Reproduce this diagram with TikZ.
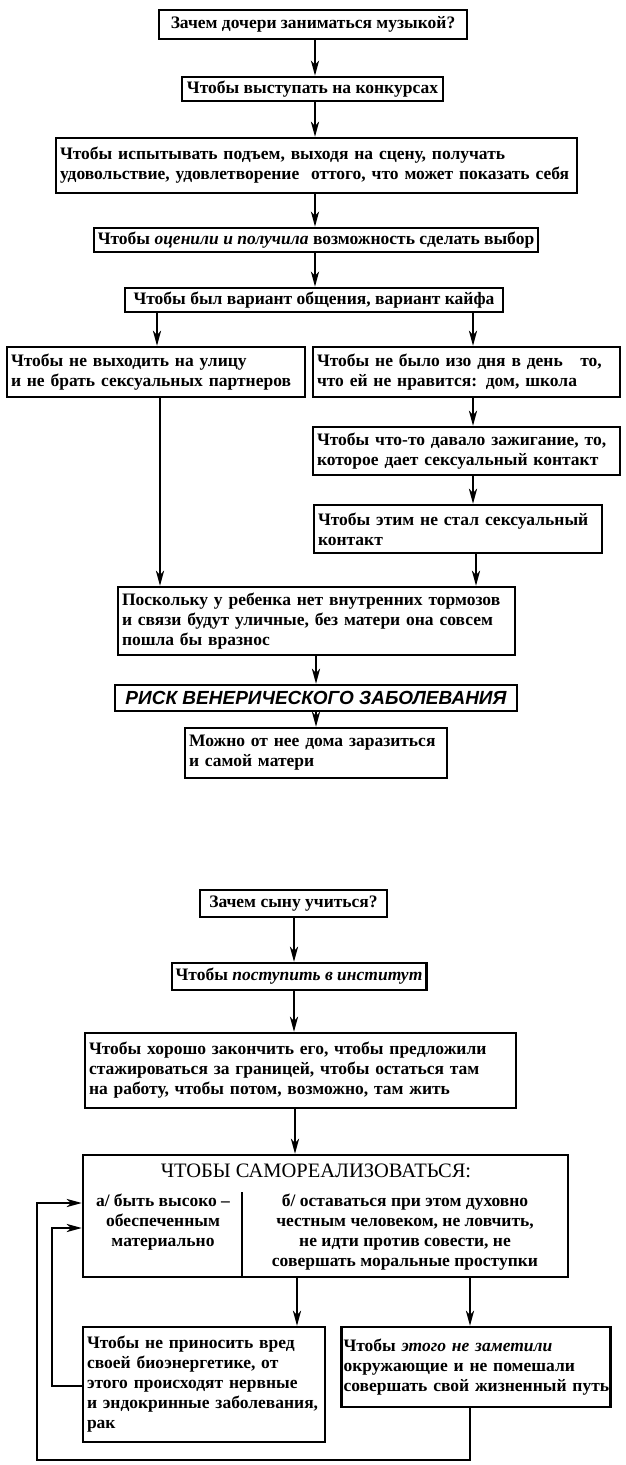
\documentclass[tikz,border=0pt]{standalone}
\usepackage{fontspec}
\setmainfont{Liberation Serif}
\setsansfont{Liberation Sans}
\usetikzlibrary{arrows.meta}
\newcommand{\bodyfont}{\bfseries\fontsize{17.5}{20}\selectfont}
\newcommand{\Lx}[1]{\mbox{#1}}
\begin{document}
\begin{tikzpicture}[x=1pt,y=-1pt,
  box/.style={draw, line width=2.3pt, inner sep=4pt, font=\bodyfont},
  lbox/.style={box, align=left},
  conn/.style={line width=2.4pt, -{Stealth[length=15pt,width=8pt,inset=4pt]}},
  wire/.style={line width=2.4pt}]
\useasboundingbox (0,0) rectangle (625,1465);

% ---------- first diagram ----------
\node[box, minimum width=308pt, minimum height=29pt] (b1) at (313,24.5) {Зачем дочери заниматься музыкой?};
\node[box, minimum width=261pt, minimum height=22pt] (b2) at (312.5,89) {Чтобы выступать на конкурсах};
\node[lbox, text width=513pt, minimum height=55pt] (b3) at (316.5,165.5)
  {\Lx{Чтобы испытывать подъем, выходя на сцену, получать}\\\Lx{удовольствие, удовлетворение\ \ оттого, что может показать себя}};
\node[box, minimum width=436pt, minimum height=24pt] (b4) at (316,240) {Чтобы \textit{оценили и получила} возможность сделать выбор};
\node[box, minimum width=378pt, minimum height=24pt] (b5) at (314,300) {Чтобы был вариант общения, вариант кайфа};
\node[lbox, text width=290pt, minimum height=50pt] (b6) at (156,372)
  {\Lx{Чтобы не выходить на улицу}\\\Lx{и не брать сексуальных партнеров}};
\node[lbox, text width=299pt, minimum height=50pt] (b7) at (466.5,372)
  {\Lx{Чтобы не было изо дня в день\ \ \ то,}\\\Lx{что ей не нравится: дом, школа}};
\node[lbox, text width=299pt, minimum height=48pt] (b8) at (466.5,451)
  {\Lx{Чтобы что-то давало зажигание, то,}\\\Lx{которое дает сексуальный контакт}};
\node[lbox, text width=280pt, minimum height=48pt] (b9) at (458,529)
  {\Lx{Чтобы этим не стал сексуальный}\\\Lx{контакт}};
\node[lbox, text width=389pt, minimum height=68pt] (b10) at (316.5,621)
  {\Lx{Поскольку у ребенка нет внутренних тормозов}\\\Lx{и связи будут уличные, без матери она совсем}\\\Lx{пошла бы вразнос}};
\node[box, minimum width=402pt, minimum height=26pt, font=\sffamily\bfseries\itshape\fontsize{19}{21}\selectfont] (b11) at (316,698)
  {РИСК ВЕНЕРИЧЕСКОГО ЗАБОЛЕВАНИЯ};
\node[lbox, text width=254pt, minimum height=50pt] (b12) at (316,753)
  {\Lx{Можно от нее дома заразиться}\\\Lx{и самой матери}};

\draw[conn] (b1.south -| 315,0) -- (b2.north -| 315,0);
\draw[conn] (b2.south -| 315,0) -- (b3.north -| 315,0);
\draw[conn] (b3.south -| 315,0) -- (b4.north -| 315,0);
\draw[conn] (b4.south -| 315,0) -- (b5.north -| 315,0);
\draw[conn] (b5.south -| 157,0) -- (b6.north -| 157,0);
\draw[conn] (b5.south -| 473,0) -- (b7.north -| 473,0);
\draw[conn] (b7.south -| 473,0) -- (b8.north -| 473,0);
\draw[conn] (b8.south -| 473,0) -- (b9.north -| 473,0);
\draw[conn] (b9.south -| 476,0) -- (b10.north -| 476,0);
\draw[conn] (b6.south -| 160,0) -- (b10.north -| 160,0);
\draw[conn] (b10.south -| 316,0) -- (b11.north -| 316,0);
\draw[conn] (b11.south -| 316,0) -- (b12.north -| 316,0);

% ---------- second diagram ----------
\node[box, minimum width=187pt, minimum height=27pt] (c1) at (293.5,903.5) {Зачем сыну учиться?};
\node[box, minimum width=236pt, minimum height=27pt] (c2) at (299,976.5) {Чтобы \textit{поступить в институт}};
\node[lbox, text width=423pt, minimum height=75pt] (c3) at (300.5,1070.5)
  {\Lx{Чтобы хорошо закончить его, чтобы предложили}\\\Lx{стажироваться за границей, чтобы остаться там}\\\Lx{на работу, чтобы потом, возможно, там жить}};
\node[box, minimum width=485pt, minimum height=122pt] (c4) at (325.5,1216) {};
\node[font=\fontsize{20.5}{22}\selectfont, anchor=north, inner sep=0pt] (c4t) at (316,1164) {ЧТОБЫ САМОРЕАЛИЗОВАТЬСЯ:};
\coordinate (dtop) at (242,1192);
\draw[line width=1.6pt] (dtop) -- (dtop |- c4.south);
\node[font=\bodyfont, align=center, anchor=north] (c4a) at (163,1190)
  {а/ быть высоко –\\обеспеченным\\материально};
\node[font=\bodyfont, align=center, anchor=north] (c4b) at (405,1190)
  {б/ оставаться при этом духовно\\честным человеком, не ловчить,\\не идти против совести, не\\совершать моральные проступки};
\node[lbox, text width=234pt, minimum height=115pt] (c5) at (204,1384.5)
  {\Lx{Чтобы не приносить вред}\\\Lx{своей биоэнергетике, от}\\\Lx{этого происходят нервные}\\\Lx{и эндокринные заболевания,}\\\Lx{рак}};
\node[lbox, text width=265pt, minimum height=80pt, inner sep=2pt] (c6) at (476,1367)
  {\Lx{Чтобы \textit{этого не заметили}}\\\Lx{окружающие и не помешали}\\\Lx{совершать свой жизненный путь}};

\draw[conn] (c1.south -| 294,0) -- (c2.north -| 294,0);
\draw[conn] (c2.south -| 294,0) -- (c3.north -| 294,0);
\draw[conn] (c3.south -| 295,0) -- (c4.north -| 295,0);
\draw[conn] (c4.south -| 297,0) -- (c5.north -| 297,0);
\draw[conn] (c4.south -| 470,0) -- (c6.north -| 470,0);

\coordinate (lo1) at (37,1460);
\coordinate (lo2) at (52,1386);
\draw[conn] (c6.south -| 470,0) -- (470,1460) -- (lo1) -- (37,1203) -- (c4.west |- 0,1203);
\draw[conn] (c5.west |- lo2) -- (lo2) -- (52,1228) -- (c4.west |- 0,1228);
\end{tikzpicture}
\end{document}
